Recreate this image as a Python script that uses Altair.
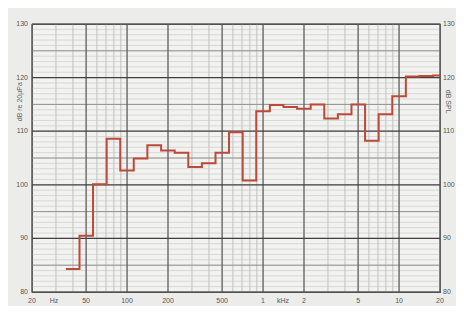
import altair as alt
import pandas as pd

# Third-octave band lower edges (Hz) and measured maximum level (dB)
band_edges = [35.5, 44.7, 56.2, 70.8, 89.1, 112, 141, 178, 224, 282, 355, 447,
              562, 708, 891, 1122, 1413, 1778, 2239, 2818, 3548, 4467, 5623,
              7079, 8913, 11220, 14125, 17783]
levels = [84.3, 90.5, 100.1, 108.6, 102.65, 104.9, 107.4, 106.4, 106.0, 103.3,
          104.0, 106.0, 109.8, 100.8, 113.7, 114.9, 114.5, 114.2, 115.0, 112.35,
          113.15, 115.0, 108.2, 113.15, 116.5, 120.2, 120.3, 120.4]
end_freq = 20000

x_ticks = [20, 50, 100, 200, 500, 1000, 2000, 5000, 10000, 20000]
x_tick_labels = ["20", "50", "100", "200", "500", "1", "2", "5", "10", "20"]
y_ticks = [80, 90, 100, 110, 120, 130]
y_tick_labels = [str(v) for v in y_ticks]
unit_labels = ["Hz", "kHz"]
unit_pos = [29, 1400]
left_title = "dB re 20µPa"
right_title = "dB SPL"

minor_x = [m * 10 ** e for e in range(1, 5) for m in range(1, 10) if 20 <= m * 10 ** e <= 20000]
major_x = x_ticks
minor_y = list(range(80, 131))
mid_y = list(range(85, 131, 10))
major_y = y_ticks

W, H = 408, 268

step_df = pd.DataFrame({"f": band_edges + [end_freq], "db": levels + [levels[-1]]})

xs = alt.Scale(type="log", domain=[20, 20000], nice=False)
ys = alt.Scale(domain=[80, 130], nice=False, zero=False)


def vrules(vals, color, w):
    return alt.Chart(pd.DataFrame({"f": vals})).mark_rule(color=color, strokeWidth=w).encode(
        x=alt.X("f:Q", scale=xs, axis=None))


def hrules(vals, color, w):
    return alt.Chart(pd.DataFrame({"d": vals})).mark_rule(color=color, strokeWidth=w).encode(
        y=alt.Y("d:Q", scale=ys, axis=None))


grid = [
    vrules(minor_x, "#acacaa", 0.7),
    hrules(minor_y, "#c6c6c4", 0.6),
    hrules(mid_y, "#8a8a88", 0.9),
    vrules(major_x, "#555553", 1.1),
    hrules(major_y, "#404040", 1.2),
]

line = alt.Chart(step_df).mark_line(interpolate="step-after", color="#bc4a38", strokeWidth=2).encode(
    x=alt.X("f:Q", scale=xs, axis=None),
    y=alt.Y("db:Q", scale=ys, axis=None),
)

ylab_df = pd.DataFrame({"v": y_ticks, "t": y_tick_labels})
left_labels = alt.Chart(ylab_df).mark_text(fontSize=7, color="#555", align="right", baseline="middle").encode(
    y=alt.Y("v:Q", scale=ys, axis=None), x=alt.value(-4), text="t:N")
right_labels = alt.Chart(ylab_df).mark_text(fontSize=7, color="#555", align="left", baseline="middle").encode(
    y=alt.Y("v:Q", scale=ys, axis=None), x=alt.value(W + 3), text="t:N")

xlab_df = pd.DataFrame({"f": x_ticks + unit_pos, "t": x_tick_labels + unit_labels})
bottom_labels = alt.Chart(xlab_df).mark_text(fontSize=7, color="#555", baseline="top").encode(
    x=alt.X("f:Q", scale=xs, axis=None), y=alt.value(H + 5), text="t:N")

titles_df = pd.DataFrame({"t": [left_title], "d": [115.5]})
left_t = alt.Chart(titles_df).mark_text(fontSize=7, color="#666", angle=270, baseline="middle").encode(
    y=alt.Y("d:Q", scale=ys, axis=None), x=alt.value(-12), text="t:N")
rt_df = pd.DataFrame({"t": [right_title], "d": [115.5]})
right_t = alt.Chart(rt_df).mark_text(fontSize=7, color="#666", angle=90, baseline="middle").encode(
    y=alt.Y("d:Q", scale=ys, axis=None), x=alt.value(W + 8), text="t:N")

chart = alt.layer(*grid, line, left_labels, right_labels, bottom_labels, left_t, right_t).properties(
    width=W, height=H, autosize="none",
    padding={"left": 24, "top": 16, "right": 16, "bottom": 14},
    background="#ecedea",
).configure_view(fill="#f2f2f0", stroke="#3a3a3a", strokeWidth=1.2)

chart.save("out.html", embed_options={"renderer": "svg", "actions": False})
